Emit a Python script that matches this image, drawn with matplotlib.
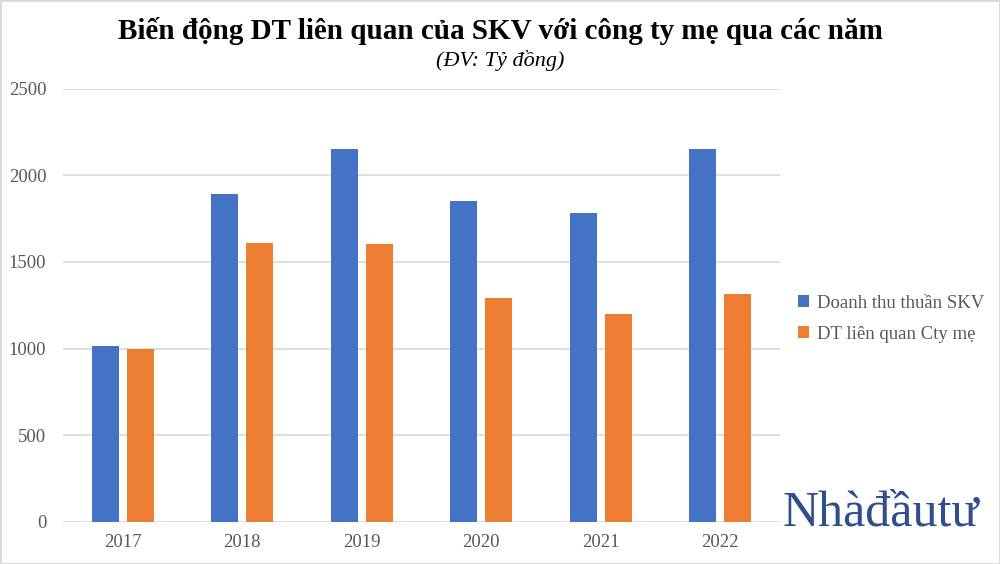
import matplotlib
matplotlib.use("Agg")
import matplotlib.pyplot as plt
from matplotlib.patches import Rectangle
import numpy as np

years = ["2017", "2018", "2019", "2020", "2021", "2022"]
doanh_thu_skv = [1016, 1894, 2150, 1849, 1784, 2154]
dt_lien_quan = [1000, 1607, 1603, 1291, 1201, 1316]
y_ticks = [0, 500, 1000, 1500, 2000, 2500]

blue = "#4472C4"
orange = "#ED7D31"
grid_color = "#D9D9D9"
text_color = "#595959"

plt.rcParams["font.family"] = ["Liberation Serif", "DejaVu Serif"]

fig = plt.figure(figsize=(10, 5.64), dpi=100)
ax = fig.add_axes([0.063, 0.0745, 0.717, 0.7685])

x = np.arange(len(years))
width = 0.225
offset = 0.146
ax.bar(x - offset, doanh_thu_skv, width, color=blue, label="Doanh thu thuần SKV", zorder=3)
ax.bar(x + offset, dt_lien_quan, width, color=orange, label="DT liên quan Cty mẹ", zorder=3)

ax.set_xlim(-0.5, len(years) - 0.5)
ax.set_ylim(0, 2500)
ax.set_yticks(y_ticks)
ax.set_yticklabels([str(t) for t in y_ticks])
ax.set_xticks(x)
ax.set_xticklabels(years)
ax.tick_params(axis="both", length=0, labelsize=13.5, colors=text_color)
ax.tick_params(axis="x", pad=9)
ax.tick_params(axis="y", pad=12)
ax.grid(axis="y", color=grid_color, linewidth=1.2, zorder=0)
for s in ax.spines.values():
    s.set_visible(False)

fig.text(0.5, 0.945, "Biến động DT liên quan của SKV với công ty mẹ qua các năm",
         ha="center", va="center", fontsize=21, fontweight="bold", color="black")
fig.text(0.5, 0.892, "(ĐV: Tỷ đồng)", ha="center", va="center",
         fontsize=16, style="italic", color="black")

fig.legend(loc="center left", bbox_to_anchor=(0.781, 0.435), frameon=False,
           fontsize=13.5, labelcolor=text_color, handlelength=0.6, handleheight=0.6,
           handletextpad=0.4, labelspacing=0.75)

# watermark
fig.text(0.881, 0.09, "Nhàđầutư", ha="center", va="center", fontsize=36,
         color="#2E4E8C")

fig.patches.append(Rectangle((0, 0), 1, 1, transform=fig.transFigure, fill=False,
                             edgecolor=grid_color, linewidth=2))

fig.savefig("out.png", dpi=100)
